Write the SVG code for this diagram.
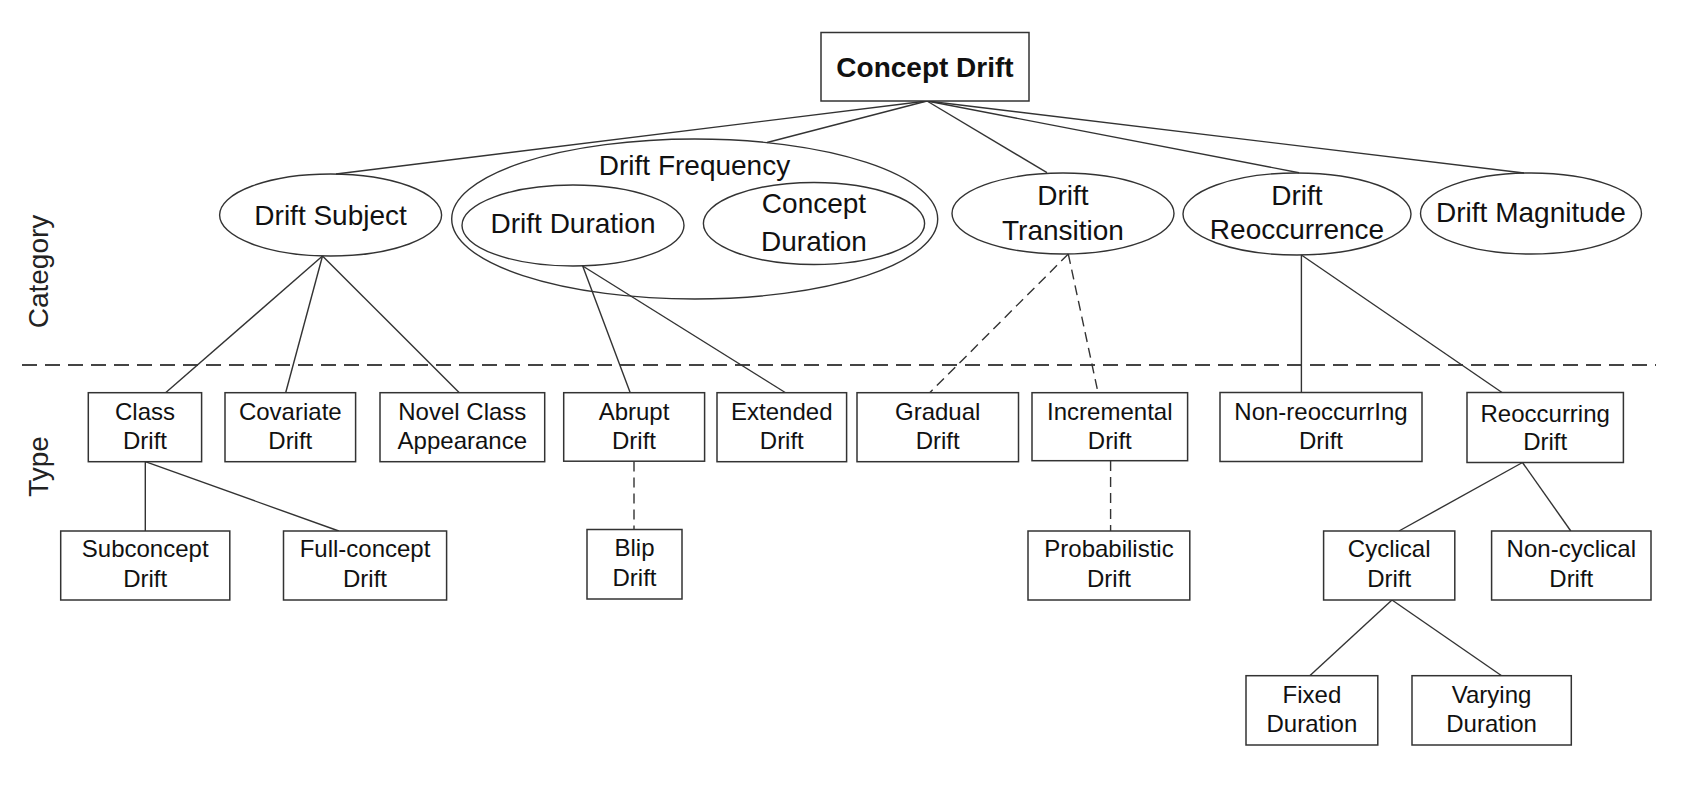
<svg xmlns="http://www.w3.org/2000/svg" width="1688" height="792" viewBox="0 0 1688 792">
<style>
.bg{fill:#fff}
.box{fill:#fff;stroke:#333;stroke-width:1.5}
.ell{fill:none;stroke:#333;stroke-width:1.4}
.t{font-family:"Liberation Sans",Arial,sans-serif;fill:#111;text-anchor:middle}
.bt{font-size:24px}
.et{font-size:28px}
.lab{font-family:"Liberation Sans",Arial,sans-serif;font-size:28px;fill:#222;text-anchor:middle}
.c{stroke:#333;stroke-width:1.4;fill:none}
.d{stroke:#333;stroke-width:1.4;fill:none;stroke-dasharray:10 6}
.sep{stroke:#444;stroke-width:2;stroke-dasharray:15 8}
</style>
<rect class="bg" width="1688" height="792"/>
<line id="separator" class="sep" x1="22" y1="365" x2="1656" y2="365"/>
<text class="lab" transform="translate(48,271.5) rotate(-90)">Category</text>
<text class="lab" transform="translate(48,466.5) rotate(-90)">Type</text>
<g id="connectors">
<line class="c" x1="927" y1="101" x2="336" y2="174"/>
<line class="c" x1="927" y1="101" x2="767" y2="142.5"/>
<line class="c" x1="927" y1="101" x2="1047" y2="172.7"/>
<line class="c" x1="927" y1="101" x2="1299" y2="172.7"/>
<line class="c" x1="927" y1="101" x2="1524" y2="173"/>
<line class="c" x1="322.5" y1="256" x2="165.3" y2="393"/>
<line class="c" x1="322.5" y1="256" x2="285.6" y2="393"/>
<line class="c" x1="322.5" y1="256" x2="459.6" y2="393"/>
<line class="c" x1="582.7" y1="266" x2="630.3" y2="393"/>
<line class="c" x1="582.7" y1="266" x2="786" y2="393"/>
<line class="d" x1="1068.3" y1="254" x2="930" y2="392.5"/>
<line class="d" x1="1068.3" y1="254" x2="1098" y2="392.5"/>
<line class="c" x1="1301.4" y1="255" x2="1301.4" y2="392.5"/>
<line class="c" x1="1301.4" y1="255" x2="1502" y2="392.5"/>
<line class="c" x1="145.3" y1="461.7" x2="145.3" y2="531"/>
<line class="c" x1="145.3" y1="461.7" x2="338.8" y2="531"/>
<line class="d" x1="634" y1="461.5" x2="634" y2="529.5"/>
<line class="d" x1="1110.6" y1="461" x2="1110.6" y2="531"/>
<line class="c" x1="1522.5" y1="462.5" x2="1399" y2="531"/>
<line class="c" x1="1522.5" y1="462.5" x2="1570.8" y2="531"/>
<line class="c" x1="1392" y1="600" x2="1309.5" y2="676"/>
<line class="c" x1="1392" y1="600" x2="1502" y2="676"/>
</g>
<g id="concept-drift">
<rect class="box" x="821" y="32.5" width="208" height="68.5"/>
<text class="t" x="925" y="77" style="font-size:28px;font-weight:bold">Concept Drift</text>
</g>
<g id="drift-subject">
<ellipse class="ell" cx="330.6" cy="215" rx="111" ry="41"/>
<text class="t et" x="330.6" y="224.5">Drift Subject</text>
</g>
<g id="drift-frequency">
<ellipse class="ell" cx="694.7" cy="219" rx="243" ry="80"/>
<text class="t et" x="694.5" y="175">Drift Frequency</text>
</g>
<g id="drift-duration">
<ellipse class="ell" cx="573" cy="225.5" rx="111" ry="40.5"/>
<text class="t et" x="573" y="233">Drift Duration</text>
</g>
<g id="concept-duration">
<ellipse class="ell" cx="814" cy="223.5" rx="110.6" ry="41"/>
<text class="t et" x="814" y="213">Concept</text>
<text class="t et" x="814" y="250.5">Duration</text>
</g>
<g id="drift-transition">
<ellipse class="ell" cx="1063" cy="213.5" rx="111" ry="40.5"/>
<text class="t et" x="1063" y="205">Drift</text>
<text class="t et" x="1063" y="240">Transition</text>
</g>
<g id="drift-reoccurrence">
<ellipse class="ell" cx="1297" cy="214" rx="114" ry="41"/>
<text class="t et" x="1297" y="205">Drift</text>
<text class="t et" x="1297" y="238.5">Reoccurrence</text>
</g>
<g id="drift-magnitude">
<ellipse class="ell" cx="1531" cy="213.5" rx="110.5" ry="40.5"/>
<text class="t et" x="1531" y="221.5">Drift Magnitude</text>
</g>
<g id="class-drift">
<rect class="box" x="88.3" y="392.7" width="113.3" height="69"/>
<text class="t bt" x="145" y="419.5">Class</text>
<text class="t bt" x="145" y="448.5">Drift</text>
</g>
<g id="covariate-drift">
<rect class="box" x="225" y="392.7" width="130.6" height="69"/>
<text class="t bt" x="290.3" y="419.5">Covariate</text>
<text class="t bt" x="290.3" y="448.5">Drift</text>
</g>
<g id="novel-class-appearance">
<rect class="box" x="380" y="392.7" width="164.7" height="69"/>
<text class="t bt" x="462.3" y="419.5">Novel Class</text>
<text class="t bt" x="462.3" y="448.5">Appearance</text>
</g>
<g id="abrupt-drift">
<rect class="box" x="563.7" y="392.7" width="140.9" height="68.5"/>
<text class="t bt" x="634" y="419.5">Abrupt</text>
<text class="t bt" x="634" y="448.5">Drift</text>
</g>
<g id="extended-drift">
<rect class="box" x="717" y="392.7" width="129.6" height="69"/>
<text class="t bt" x="781.8" y="419.5">Extended</text>
<text class="t bt" x="781.8" y="448.5">Drift</text>
</g>
<g id="gradual-drift">
<rect class="box" x="857" y="392.7" width="161.5" height="69"/>
<text class="t bt" x="937.7" y="419.5">Gradual</text>
<text class="t bt" x="937.7" y="448.5">Drift</text>
</g>
<g id="incremental-drift">
<rect class="box" x="1032" y="392.7" width="155.6" height="68"/>
<text class="t bt" x="1109.8" y="419.5">Incremental</text>
<text class="t bt" x="1109.8" y="448.5">Drift</text>
</g>
<g id="non-reoccurring-drift">
<rect class="box" x="1220" y="392.5" width="202" height="69"/>
<text class="t bt" x="1321" y="419.5">Non-reoccurrIng</text>
<text class="t bt" x="1321" y="448.5">Drift</text>
</g>
<g id="reoccurring-drift">
<rect class="box" x="1467" y="392.5" width="156.4" height="70"/>
<text class="t bt" x="1545.2" y="421.5">Reoccurring</text>
<text class="t bt" x="1545.2" y="450">Drift</text>
</g>
<g id="subconcept-drift">
<rect class="box" x="60.7" y="531" width="169.1" height="69"/>
<text class="t bt" x="145.2" y="557">Subconcept</text>
<text class="t bt" x="145.2" y="586.5">Drift</text>
</g>
<g id="full-concept-drift">
<rect class="box" x="283.5" y="531" width="163.1" height="69"/>
<text class="t bt" x="365" y="557">Full-concept</text>
<text class="t bt" x="365" y="586.5">Drift</text>
</g>
<g id="blip-drift">
<rect class="box" x="587" y="529.5" width="95" height="69.5"/>
<text class="t bt" x="634.5" y="556">Blip</text>
<text class="t bt" x="634.5" y="586">Drift</text>
</g>
<g id="probabilistic-drift">
<rect class="box" x="1028" y="531" width="161.8" height="69"/>
<text class="t bt" x="1109" y="557">Probabilistic</text>
<text class="t bt" x="1109" y="586.5">Drift</text>
</g>
<g id="cyclical-drift">
<rect class="box" x="1323.6" y="531" width="131.2" height="69"/>
<text class="t bt" x="1389.2" y="557">Cyclical</text>
<text class="t bt" x="1389.2" y="586.5">Drift</text>
</g>
<g id="non-cyclical-drift">
<rect class="box" x="1491.6" y="531" width="159.4" height="69"/>
<text class="t bt" x="1571.3" y="557">Non-cyclical</text>
<text class="t bt" x="1571.3" y="586.5">Drift</text>
</g>
<g id="fixed-duration">
<rect class="box" x="1246" y="675.7" width="131.8" height="69.3"/>
<text class="t bt" x="1311.9" y="702.5">Fixed</text>
<text class="t bt" x="1311.9" y="731.5">Duration</text>
</g>
<g id="varying-duration">
<rect class="box" x="1412" y="675.7" width="159.3" height="69.3"/>
<text class="t bt" x="1491.6" y="702.5">Varying</text>
<text class="t bt" x="1491.6" y="731.5">Duration</text>
</g>
</svg>
